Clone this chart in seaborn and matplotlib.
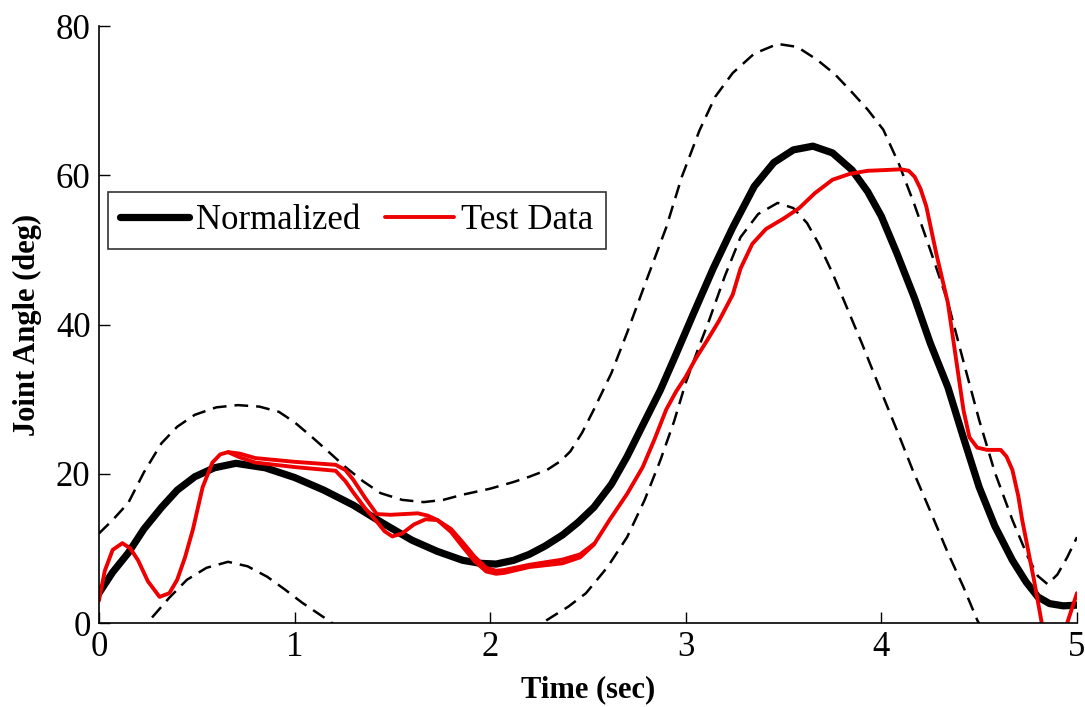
import numpy as np
import pandas as pd
import matplotlib
matplotlib.use("Agg")
import matplotlib.pyplot as plt
import seaborn as sns

# ---- data ----
norm_x = [0, 0.07, 0.15, 0.23, 0.32, 0.40, 0.49, 0.59, 0.70, 0.85, 1.0, 1.15, 1.3, 1.45,
          1.6, 1.73, 1.86, 1.95, 2.03, 2.12, 2.2, 2.28, 2.37, 2.45, 2.53, 2.62, 2.7, 2.78,
          2.87, 2.95, 3.04, 3.14, 3.24, 3.35, 3.45, 3.55, 3.65, 3.75, 3.85, 3.93, 4.0,
          4.08, 4.17, 4.25, 4.34, 4.42, 4.5, 4.58, 4.67, 4.74, 4.8, 4.86, 4.93, 5.0]
norm_y = [4, 6.8, 9.4, 12.6, 15.5, 17.8, 19.6, 20.8, 21.4, 20.8, 19.5, 17.8, 15.8, 13.4,
          11.1, 9.6, 8.4, 8.0, 7.9, 8.4, 9.2, 10.3, 11.8, 13.5, 15.5, 18.6, 22.3, 26.5,
          31.2, 36, 41.5, 47.5, 53, 58.5, 61.7, 63.4, 63.9, 63.0, 60.7, 57.8, 54.5,
          49.5, 43.5, 37.5, 31.6, 24.8, 18.2, 13, 8.4, 5.5, 3.5, 2.6, 2.3, 2.4]

upper_x = [0, 0.07, 0.15, 0.23, 0.32, 0.40, 0.49, 0.60, 0.71, 0.82, 0.92, 1.0, 1.09, 1.18,
           1.26, 1.35, 1.44, 1.55, 1.66, 1.76, 1.86, 2.0, 2.12, 2.2, 2.29, 2.36, 2.41, 2.47,
           2.53, 2.62, 2.7, 2.8, 2.9, 2.98, 3.07, 3.15, 3.24, 3.35, 3.47, 3.57, 3.67, 3.76,
           3.84, 3.93, 4.01, 4.09, 4.17, 4.25, 4.34, 4.42, 4.5, 4.58, 4.67, 4.75, 4.8, 4.85,
           4.9, 4.95, 5.0]
upper_y = [12, 13.8, 16.1, 20.2, 24.1, 26.3, 27.9, 28.9, 29.2, 29.0, 28.3, 26.9, 24.9, 22.8,
           20.9, 19.0, 17.4, 16.5, 16.2, 16.5, 17.2, 18.0, 18.9, 19.6, 20.5, 21.7, 23, 25.5,
           28.6, 33.5, 38.9, 46, 53, 59.8, 66, 70.5, 73.7, 76.3, 77.6, 77.2, 75.5, 73.6,
           71.4, 68.8, 66.1, 61.5, 56, 50, 43, 35, 27.2, 20.2, 13.8, 8.8, 6.3, 5.2,
           6.5, 8.8, 11.5]

lower1_x = [0.2, 0.27, 0.36, 0.45, 0.55, 0.66, 0.76, 0.86, 0.95, 1.04, 1.17, 1.3]
lower1_y = [-1.5, 0.7, 3.4, 5.8, 7.4, 8.2, 7.6, 6.2, 4.5, 2.7, 0.4, -2]
lower2_x = [2.2, 2.29, 2.4, 2.49, 2.6, 2.7, 2.79, 2.87, 2.94, 3.0, 3.06, 3.12, 3.2, 3.28,
            3.37, 3.47, 3.55, 3.62, 3.68, 3.75, 3.82, 3.9, 3.99, 4.08, 4.16, 4.25, 4.34,
            4.42, 4.49, 4.6]
lower2_y = [-1.5, 0.4, 2.2, 4.0, 7.5, 11.5, 16.5, 21.8, 27, 32.2, 36.5, 40.6, 46.5, 51.7,
            54.8, 56.3, 55.6, 53.6, 50.8, 46.9, 42.5, 37.5, 31.6, 25.8, 20.5, 15.0, 9.4,
            4.8, 0.4, -5]

test_x = [0, 0.03, 0.07, 0.12, 0.16, 0.20, 0.25, 0.31, 0.36, 0.40, 0.44, 0.48, 0.53, 0.58,
          0.62, 0.66, 0.72, 0.80, 1.0, 1.21, 1.26, 1.3, 1.36, 1.42, 1.49, 1.56, 1.63, 1.68,
          1.73, 1.8, 1.86, 1.92, 1.98, 2.03, 2.07, 2.2, 2.37, 2.46, 2.53, 2.61, 2.7, 2.78,
          2.84, 2.9, 2.95, 3.0, 3.05, 3.11, 3.17, 3.24, 3.28, 3.34, 3.41, 3.5, 3.58, 3.66,
          3.75, 3.84, 3.93, 4.02, 4.10, 4.14, 4.17, 4.2, 4.23, 4.28, 4.34, 4.39, 4.42, 4.45,
          4.49, 4.54, 4.61, 4.64, 4.67, 4.7, 4.72, 4.75, 4.78, 4.82, 4.88, 4.95, 5.0]
test_y = [3, 7, 9.8, 10.7, 10.0, 8.4, 5.6, 3.5, 4.0, 5.8, 8.8, 12.5, 18.2, 21.5,
          22.6, 22.9, 22.7, 22.1, 21.6, 21.2, 20.5, 19.2, 16.8, 14.6, 14.5, 14.6, 14.7, 14.4,
          13.8, 12.2, 10.2, 8.3, 6.9, 6.6, 6.7, 7.5, 8.0, 8.8, 10.5, 13.8, 17.3, 20.9,
          24.6, 28.6, 31, 33, 35.4, 37.9, 40.5, 44.0, 47.5, 50.8, 52.8, 54.2, 55.6, 57.6,
          59.4, 60.2, 60.6, 60.7, 60.8, 60.6, 59.8, 58.2, 55.8, 49.6, 42.9, 33.9, 28.5, 24.9,
          23.5, 23.2, 23.2, 22.3, 20.5, 17.0, 13.8, 9.8, 5.8, 0, -5, 0, 4]

test2_x = [0.66, 0.72, 0.80, 1.0, 1.21, 1.26, 1.3, 1.36, 1.42, 1.46, 1.5, 1.55, 1.61, 1.67,
           1.73, 1.8, 1.86, 1.92, 1.98, 2.03, 2.07, 2.2, 2.37, 2.46, 2.53]
test2_y = [22.9, 22.2, 21.5, 20.9, 20.4, 19.0, 17.5, 15.4, 13.6, 12.3, 11.6, 12.0, 13.2, 13.9,
           13.8, 12.6, 10.8, 8.9, 7.4, 7.0, 7.1, 7.8, 8.5, 9.2, 10.6]

x_ticks = [0, 1, 2, 3, 4, 5]
y_ticks = [0, 20, 40, 60, 80]

# ---- drawing ----
sns.set_theme(style="white")
plt.rcParams['font.family'] = ['Liberation Serif', 'DejaVu Serif']
plt.rcParams['text.color'] = 'black'
plt.rcParams['axes.labelcolor'] = 'black'
plt.rcParams['xtick.color'] = 'black'
plt.rcParams['ytick.color'] = 'black'

fig = plt.figure(figsize=(10.85, 7.07), dpi=100)
ax = fig.add_axes([0.0912, 0.1188, 0.9014, 0.8444])

dash_kw = dict(color="black", lw=1.8, dashes=(5.5, 3.2))
sns.lineplot(x=upper_x, y=upper_y, ax=ax, **dash_kw)
sns.lineplot(x=lower1_x, y=lower1_y, ax=ax, **dash_kw)
sns.lineplot(x=lower2_x, y=lower2_y, ax=ax, **dash_kw)
sns.lineplot(x=norm_x, y=norm_y, ax=ax, color="black", lw=5.2, label="Normalized")
sns.lineplot(x=test2_x, y=test2_y, ax=ax, color="#ee0000", lw=2.8)
sns.lineplot(x=test_x, y=test_y, ax=ax, color="#ee0000", lw=2.8, label="Test Data")

ax.set_xlim(0, 5)
ax.set_ylim(0, 80)
ax.set_xticks(x_ticks)
ax.set_yticks(y_ticks)
ax.tick_params(direction="in", length=8, width=1, labelsize=25, pad=6,
               left=True, bottom=True, colors="black")
for s in ["top", "right"]:
    ax.spines[s].set_visible(False)
for s in ["left", "bottom"]:
    ax.spines[s].set_color("black")
    ax.spines[s].set_linewidth(1.2)

ax.set_xlabel("Time (sec)", fontsize=22, fontweight="bold", labelpad=8)
ax.set_ylabel("Joint Angle (deg)", fontsize=22, fontweight="bold", labelpad=10)

leg = ax.legend(loc="upper left", bbox_to_anchor=(0.009, 0.722), ncol=2, fontsize=25,
                frameon=True, fancybox=False, edgecolor="black", handlelength=2.0,
                handletextpad=0.2, columnspacing=0.7, borderpad=0.35, borderaxespad=0)
leg.get_frame().set_linewidth(1.2)

fig.savefig("out.png", dpi=100, facecolor="white")
